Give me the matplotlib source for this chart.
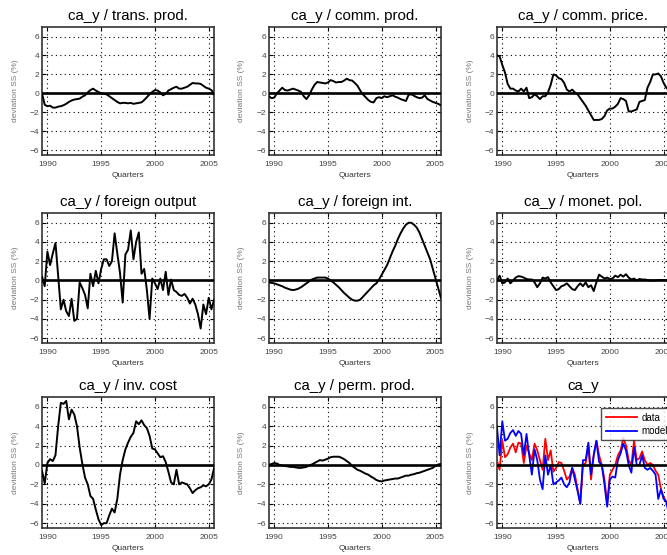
import numpy as np
import matplotlib
matplotlib.use("Agg")
import matplotlib.pyplot as plt

plt.rcParams['font.family'] = ['Liberation Sans', 'DejaVu Sans']

# quarterly, 1989Q3 .. 2005Q3
quarters = 1989.5 + 0.25 * np.arange(65)

trans_prod = [0.0, -1.2, -1.35, -1.3, -1.5, -1.5, -1.4, -1.35, -1.25, -1.1,
              -0.9, -0.75, -0.65, -0.6, -0.55, -0.35, -0.2, 0.1, 0.35, 0.5,
              0.3, 0.15, 0.0, -0.05, -0.1, -0.3, -0.5, -0.7, -0.9, -1.05,
              -1.0, -1.0, -1.05, -1.0, -1.1, -1.05, -1.0, -0.95, -0.7, -0.4,
              -0.1, 0.15, 0.35, 0.3, 0.1, -0.2, -0.05, 0.3, 0.45, 0.6,
              0.7, 0.5, 0.5, 0.6, 0.7, 0.9, 1.1, 1.05, 1.05, 1.0,
              0.8, 0.6, 0.5, 0.35, -0.1]

comm_prod = [-0.3, -0.5, -0.45, 0.0, 0.3, 0.6, 0.35, 0.3, 0.4, 0.5,
             0.4, 0.3, 0.15, -0.3, -0.6, -0.2, 0.4, 0.9, 1.2, 1.15,
             1.1, 1.05, 1.15, 1.4, 1.3, 1.15, 1.2, 1.2, 1.35, 1.55,
             1.4, 1.35, 1.1, 0.8, 0.3, -0.1, -0.4, -0.7, -0.9, -0.95,
             -0.5, -0.4, -0.5, -0.3, -0.4, -0.3, -0.2, -0.35, -0.45, -0.6,
             -0.7, -0.8, -0.15, -0.1, -0.25, -0.4, -0.5, -0.45, -0.2, -0.6,
             -0.75, -0.9, -1.0, -1.1, -1.25]

comm_price = [4.0, 3.9, 3.0, 2.2, 1.0, 0.5, 0.5, 0.3, 0.2, 0.5,
              0.2, 0.6, -0.5, -0.4, -0.1, -0.3, -0.6, -0.3, -0.3, 0.1,
              0.9, 2.0, 1.9, 1.6, 1.5, 1.1, 0.4, 0.2, 0.4, 0.1,
              -0.1, -0.5, -0.9, -1.3, -1.8, -2.3, -2.8, -2.8, -2.8, -2.7,
              -2.4, -1.8, -1.6, -1.6, -1.4, -1.1, -0.5, -0.6, -0.8, -1.9,
              -1.9, -1.8, -1.7, -0.9, -0.8, -0.7, 0.6, 1.2, 2.0, 2.0,
              2.1, 1.8, 1.1, 0.6, 0.3]

foreign_output = [0.4, -0.6, 3.0, 1.6, 2.8, 3.9, 0.5, -3.0, -2.0, -3.2,
                  -3.7, -1.9, -4.2, -4.0, -0.2, -0.8, -1.5, -2.9, 0.7, -0.6,
                  1.0, -0.3, 1.2, 2.2, 2.2, 1.5, 2.0, 4.9, 2.8, 0.8,
                  -2.3, 2.7, 3.2, 5.2, 2.2, 4.0, 5.0, 0.7, 1.2, -1.0,
                  -4.0, 0.2, -0.3, -0.9, 0.2, -1.0, 0.9, -1.5, 0.1, -1.0,
                  -1.2, -1.5, -1.6, -1.4, -1.8, -2.4, -1.9, -2.5, -3.5, -5.0,
                  -2.5, -3.5, -1.8, -3.0, -2.0]

foreign_int = [-0.2, -0.25, -0.3, -0.4, -0.5, -0.6, -0.75, -0.85, -0.95, -1.0,
               -0.95, -0.85, -0.7, -0.5, -0.3, -0.1, 0.1, 0.2, 0.3, 0.3,
               0.3, 0.3, 0.2, 0.0, -0.2, -0.45, -0.7, -1.0, -1.3, -1.55,
               -1.8, -2.0, -2.1, -2.1, -2.0, -1.7, -1.4, -1.1, -0.8, -0.5,
               -0.3, 0.1, 0.6, 1.1, 1.6, 2.3, 3.0, 3.6, 4.3, 4.9,
               5.4, 5.8, 6.0, 6.0, 5.8, 5.5, 5.0, 4.3, 3.6, 2.9,
               2.2, 1.2, 0.2, -0.8, -1.8]

monet_pol = [0.0, 0.5, -0.3, -0.2, 0.2, -0.3, 0.0, 0.3, 0.45, 0.4,
             0.3, 0.15, 0.1, 0.1, -0.2, -0.7, -0.3, 0.3, 0.2, 0.35,
             -0.2, -0.6, -1.0, -0.9, -0.6, -0.5, -0.3, -0.6, -0.9, -1.0,
             -0.6, -0.3, -0.6, -0.2, -0.7, -0.5, -1.1, -0.2, 0.6, 0.4,
             0.2, 0.3, 0.15, 0.2, 0.5, 0.35, 0.6, 0.4, 0.65, 0.3,
             0.1, 0.2, 0.0, 0.15, 0.1, 0.1, 0.05, 0.0, 0.0, 0.0,
             0.05, 0.05, 0.05, 0.05, 0.0]

inv_cost = [-0.6, -1.9, 0.2, 0.6, 0.4, 1.0, 4.0, 6.4, 6.3, 6.6,
            4.7, 5.7, 5.2, 4.0, 1.8, 0.1, -1.3, -2.0, -3.2, -3.5,
            -4.6, -5.6, -6.2, -6.0, -6.0, -5.2, -4.5, -4.9, -3.5, -1.0,
            0.5, 1.6, 2.3, 2.9, 3.3, 4.5, 4.2, 4.6, 4.1, 3.8,
            3.0, 1.7, 1.6, 1.2, 0.8, 0.9, 0.3, -0.7, -1.8, -2.0,
            -0.5, -2.0, -1.8, -1.9, -2.0, -2.4, -2.9, -2.6, -2.4, -2.3,
            -2.1, -2.2, -2.0, -1.5, -0.3]

perm_prod = [0.0, 0.1, 0.2, 0.15, 0.0, -0.05, -0.1, -0.15, -0.2, -0.2,
             -0.25, -0.3, -0.3, -0.25, -0.2, -0.05, 0.05, 0.2, 0.35, 0.5,
             0.45, 0.55, 0.65, 0.8, 0.85, 0.85, 0.85, 0.75, 0.6, 0.4,
             0.2, -0.1, -0.3, -0.5, -0.6, -0.75, -0.9, -1.0, -1.2, -1.35,
             -1.55, -1.65, -1.7, -1.6, -1.55, -1.5, -1.45, -1.4, -1.4, -1.3,
             -1.2, -1.1, -1.1, -1.0, -0.95, -0.85, -0.8, -0.7, -0.6, -0.5,
             -0.4, -0.3, -0.1, 0.05, 0.1]

ca_data = [0.5, -0.5, 2.5, 0.8, 1.1, 1.8, 2.2, 1.3, 2.3, 2.2,
           0.2, 2.0, 1.2, 0.5, 2.2, 1.5, 0.5, -0.5, 2.7, 0.5,
           1.5, -0.7, -0.3, 0.3, 0.2, -0.6, -1.5, -1.2, -0.3, -1.0,
           -2.5, -4.0, 0.0, 0.2, 2.0, -1.5, 1.0, 2.5, 1.0, 0.0,
           -1.5, -4.0, -1.0, -0.5, 0.0, 1.0, 1.5, 2.8, 2.0, 0.5,
           0.0, 2.5, 0.5, 0.7, 1.4, 0.5, 0.0, 0.2, 0.0, -0.6,
           -1.0, -2.5, -3.3, -3.8, -4.5]

ca_model = [4.0, 1.0, 4.5, 2.5, 2.7, 3.3, 3.6, 3.0, 3.5, 3.2,
            1.0, 3.2, 1.0, -1.0, 1.6, 0.5, -1.5, -2.5, 1.0, -1.0,
            0.0, -2.0, -1.8, -1.6, -1.3, -2.0, -2.3, -1.8, -0.3, -1.5,
            -2.7, -4.0, 0.5, 0.5, 2.3, -1.0, 1.0, 2.5, 0.3, 0.0,
            -2.0, -4.3, -1.5, -1.2, -1.3, 0.5, 1.2, 2.2, 1.5, 0.0,
            -0.8, 1.8, 0.0, 0.0, 1.0, -0.3, -0.5, -0.3, -0.6, -1.0,
            -3.5, -2.5, -3.5, -3.8, -5.2]

titles = ['ca_y / trans. prod.', 'ca_y / comm. prod.', 'ca_y / comm. price.',
          'ca_y / foreign output', 'ca_y / foreign int.', 'ca_y / monet. pol.',
          'ca_y / inv. cost', 'ca_y / perm. prod.', 'ca_y']
series = [trans_prod, comm_prod, comm_price,
          foreign_output, foreign_int, monet_pol,
          inv_cost, perm_prod, None]

fig = plt.figure(figsize=(6.67, 5.55), dpi=100)

lefts = [0.063, 0.403, 0.745]
rows = [(0.7207, 0.2306), (0.382, 0.234), (0.0486, 0.236)]
width = 0.258

for k in range(9):
    r, c = divmod(k, 3)
    ax = fig.add_axes([lefts[c], rows[r][0], width, rows[r][1]])
    if series[k] is not None:
        ax.plot(quarters, series[k], color='black', lw=1.4, zorder=3)
    else:
        ax.plot(quarters, ca_data, color='red', lw=1.3, label='data', zorder=3)
        ax.plot(quarters, ca_model, color='blue', lw=1.3, label='model', zorder=3)
        leg = ax.legend(loc='upper left', bbox_to_anchor=(0.607, 0.915),
                        fontsize=7, frameon=True, fancybox=False,
                        handlelength=3.2, borderpad=0.45, labelspacing=0.35,
                        borderaxespad=0, handletextpad=0.5)
        leg.get_frame().set_edgecolor('#222222')
        leg.get_frame().set_linewidth(1.0)
        leg.set_zorder(5)
    ax.axhline(0, color='black', lw=1.9, zorder=4)
    ax.set_xlim(1989.5, 2005.5)
    ax.set_ylim(-6.5, 7)
    ax.set_xticks([1990, 1995, 2000, 2005])
    ax.set_yticks([-6, -4, -2, 0, 2, 4, 6])
    ax.grid(True, color='black', linestyle=(0, (1, 3)), lw=0.8)
    ax.tick_params(direction='in', length=3, width=0.8, labelsize=6,
                   labelcolor='#444444', top=True, right=True)
    ax.tick_params(axis='x', pad=4.5)
    ax.tick_params(axis='y', pad=2)
    for sp in ax.spines.values():
        sp.set_color('#333333')
        sp.set_linewidth(1.2)
    ax.set_title(titles[k], fontsize=10.8, pad=5)
    ax.set_xlabel('Quarters', fontsize=6, labelpad=3, color='#333333')
    ax.set_ylabel('deviation SS (%)', fontsize=6, labelpad=8, color='#777777')

fig.savefig('out.png', dpi=100)
